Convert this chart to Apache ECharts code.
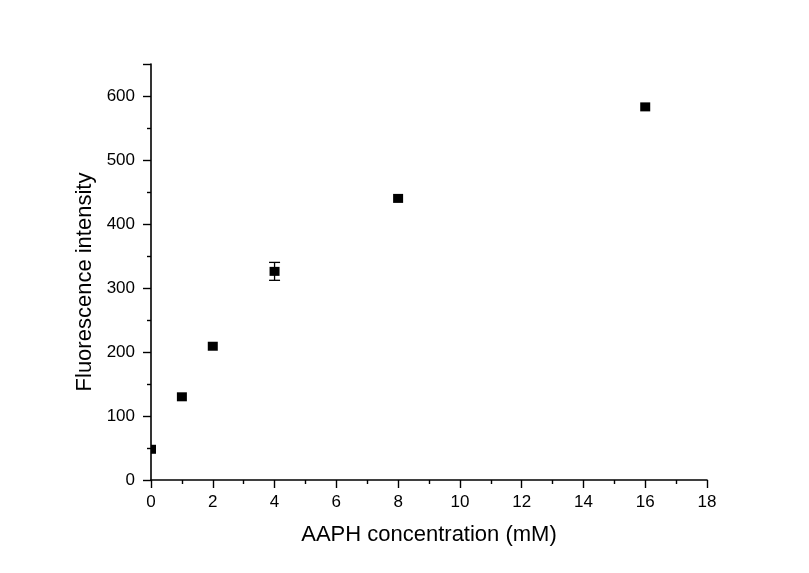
<!DOCTYPE html>
<html><head><meta charset="utf-8">
<script src="https://cdn.jsdelivr.net/npm/echarts@6/dist/echarts.min.js"></script>
<style>html,body{margin:0;padding:0;background:#fff}#c{width:809px;height:573px}</style>
</head><body><div id="c"></div>
<script>
const concentrations = [0, 1, 2, 4, 8, 16];
const intensity = [48, 130, 209, 326, 440, 583];
const errors = [0, 0, 0, 14, 0, 0];
const xTitle = 'AAPH concentration (mM)';
const yTitle = 'Fluorescence intensity';

const pts = concentrations.map((x, i) => [x, intensity[i]]);
const errData = concentrations.map((x, i) => [x, intensity[i] - errors[i], intensity[i] + errors[i]]);

const chart = echarts.init(document.getElementById('c'), null, {renderer: 'canvas'});
const font = 'Liberation Sans, Arial, sans-serif';
const axisCommon = {
  axisLine: {show: true, onZero: false, lineStyle: {color: '#000', width: 1.6}},
  axisTick: {show: true, inside: false, length: 8, lineStyle: {color: '#000', width: 1.4}},
  minorTick: {show: true, splitNumber: 2, length: 4, lineStyle: {color: '#000', width: 1.4}},
  splitLine: {show: false},
  axisLabel: {color: '#000', fontSize: 17, fontFamily: font}
};
chart.setOption({
  backgroundColor: '#fff',
  animation: false,
  grid: {left: 151, right: 102, top: 64, bottom: 93},
  xAxis: Object.assign({}, axisCommon, {
    type: 'value', min: 0, max: 18, interval: 2,
    name: xTitle, nameLocation: 'middle', nameGap: 44,
    nameTextStyle: {color: '#000', fontSize: 22, fontFamily: font},
    axisLabel: Object.assign({}, axisCommon.axisLabel, {margin: 14})
  }),
  yAxis: Object.assign({}, axisCommon, {
    type: 'value', min: 0, max: 650, interval: 100,
    name: yTitle, nameLocation: 'middle', nameGap: 54,
    nameTextStyle: {color: '#000', fontSize: 22, fontFamily: font, padding: [0, 20, 0, 0]},
    axisLabel: Object.assign({}, axisCommon.axisLabel, {margin: 16, showMaxLabel: false})
  }),
  series: [
    {
      type: 'custom',
      data: errData,
      z: 3,
      renderItem: function (params, api) {
        const x = api.value(0);
        if (api.value(2) - api.value(1) <= 0) return {type: 'group', children: []};
        const lo = api.coord([x, api.value(1)]);
        const hi = api.coord([x, api.value(2)]);
        const hw = 5.5;
        const style = {stroke: '#000', lineWidth: 1.3};
        return {
          type: 'group',
          children: [
            {type: 'line', shape: {x1: lo[0], y1: lo[1], x2: hi[0], y2: hi[1]}, style: style},
            {type: 'line', shape: {x1: lo[0] - hw, y1: lo[1], x2: lo[0] + hw, y2: lo[1]}, style: style},
            {type: 'line', shape: {x1: hi[0] - hw, y1: hi[1], x2: hi[0] + hw, y2: hi[1]}, style: style}
          ]
        };
      }
    },
    {
      type: 'custom',
      data: pts,
      z: 4,
      renderItem: function (params, api) {
        const c = api.coord([api.value(0), api.value(1)]);
        const w = 10, h = 9;
        const rect = echarts.graphic.clipRectByRect(
          {x: c[0] - w / 2, y: c[1] - h / 2, width: w, height: h},
          {x: params.coordSys.x, y: params.coordSys.y, width: params.coordSys.width, height: params.coordSys.height}
        );
        if (!rect) return {type: 'group', children: []};
        return {type: 'rect', shape: rect, style: {fill: '#000'}};
      }
    }
  ]
});
</script></body></html>
